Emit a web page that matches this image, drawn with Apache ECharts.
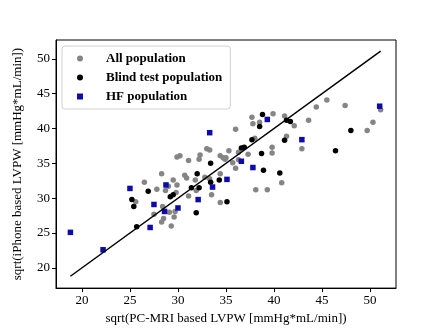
<!DOCTYPE html>
<html><head><meta charset="utf-8">
<script src="https://cdn.jsdelivr.net/npm/echarts@6/dist/echarts.min.js"></script>
<style>html,body{margin:0;padding:0;background:#fff}#c{width:440px;height:330px}</style>
</head><body><div id="c"></div>
<script>
const tickValues = [20, 25, 30, 35, 40, 45, 50];
const allPopulation = [
  [26.5,32.3],[25.6,29.5],[27.8,31.3],[28.3,33.5],[28.4,28.8],[28.5,27.1],[28.3,26.6],[29.3,26.0],
  [28.7,31.1],[29.0,31.7],[29.5,32.6],[29.9,31.9],[29.8,30.8],[29.7,28.1],[29.6,27.3],[29.1,28.0],
  [30.7,33.3],[30.9,32.9],[31.1,35.4],[31.1,30.3],[31.8,32.6],[31.9,31.1],[32.3,36.2],[32.2,35.6],
  [32.8,33.0],[33.3,32.8],[33.5,30.5],[34.4,33.5],[34.4,29.4],[35.7,35.1],[36.0,34.3],[36.3,35.5],
  [38.1,31.2],[39.3,31.2],[40.8,32.2],[33.0,37.1],[33.3,36.9],[29.9,35.9],[30.2,36.1],
  [34.4,36.1],[34.7,35.8],[34.9,35.6],[35.0,35.8],[35.3,36.8],[36.3,36.6],[37.3,36.3],
  [39.8,37.3],[39.8,36.5],[36.0,39.9],[37.7,41.6],[38.5,40.9],[37.8,40.7],[39.9,42.1],[41.1,41.8],
  [42.1,40.4],[43.6,41.2],[44.4,43.1],[45.5,44.1],[47.4,43.3],[51.1,42.7],[50.3,40.9],[49.7,39.7],
  [38.0,38.6],[41.3,38.9],[42.9,37.1],[27.5,27.7]
];
const blindTestPopulation = [
  [25.7,25.9],[25.2,29.8],[25.4,28.8],[26.9,31.0],[29.2,30.2],[29.5,30.5],[31.4,31.5],[32.0,33.5],
  [32.2,31.5],[31.9,27.9],[33.4,35.0],[33.4,32.3],[34.3,32.6],[35.1,29.5],[38.9,34.0],[40.6,33.6],
  [36.6,37.2],[36.9,37.3],[38.7,36.4],[37.7,38.4],[41.1,38.3],[38.8,42.0],[38.5,40.3],[41.3,41.2],
  [41.7,41.0],[46.4,36.8],[48.0,39.7]
];
const hfPopulation = [
  [18.8,25.1],[22.2,22.6],[25.0,31.4],[27.1,25.8],[27.5,29.1],[28.6,28.1],[28.75,31.9],[30.0,28.6],
  [32.1,29.8],[33.3,39.4],[33.6,31.6],[35.1,32.7],[36.6,35.3],[37.8,34.4],[39.3,41.3],[42.9,38.4],
  [51.0,43.2]
];
const identityLine = [[18.8,18.8],[51.1,51.1]];
const seriesNames = ['All population', 'Blind test population', 'HF population'];

const font = 'Liberation Serif, Times New Roman, serif';
const chart = echarts.init(document.getElementById('c'));
chart.setOption({
  animation: false,
  backgroundColor: '#fff',
  grid: { left: 56, right: 44, top: 40, bottom: 36, show: true, borderColor: '#000', borderWidth: 1 },
  legend: {
    orient: 'vertical', left: 62, top: 46,
    data: [
      { name: seriesNames[0], icon: 'circle' },
      { name: seriesNames[1], icon: 'circle' },
      { name: seriesNames[2], icon: 'rect' }
    ],
    itemWidth: 6, itemHeight: 6, itemGap: 6,
    padding: [6, 8, 6, 15],
    backgroundColor: '#fff', borderColor: '#d0d0d0', borderWidth: 1, borderRadius: 3,
    textStyle: { fontFamily: font, fontWeight: 'bold', fontSize: 13, color: '#000', padding: [0, 0, 0, 18] }
  },
  xAxis: {
    type: 'value', min: 17.3, max: 52.7,
    name: 'sqrt(PC-MRI based LVPW [mmHg*mL/min])', nameLocation: 'middle', nameGap: 22,
    nameTextStyle: { fontFamily: font, fontSize: 13, color: '#000' },
    axisLine: { show: true, onZero: false, lineStyle: { color: '#000' } },
    axisTick: { show: true, length: 4, customValues: tickValues, lineStyle: { color: '#000' } },
    axisLabel: { customValues: tickValues, fontFamily: font, fontSize: 13, color: '#000', margin: 6 },
    splitLine: { show: false }
  },
  yAxis: {
    type: 'value', min: 17.1, max: 52.7,
    name: 'sqrt(iPhone based LVPW [mmHg*mL/min])', nameLocation: 'middle', nameGap: 32, nameRotate: 90,
    nameTextStyle: { fontFamily: font, fontSize: 13, color: '#000' },
    axisLine: { show: true, onZero: false, lineStyle: { color: '#000' } },
    axisTick: { show: true, length: 4, customValues: tickValues, lineStyle: { color: '#000' } },
    axisLabel: { customValues: tickValues, fontFamily: font, fontSize: 13, color: '#000', margin: 6 },
    splitLine: { show: false }
  },
  series: [
    { name: seriesNames[0], type: 'scatter', data: allPopulation, symbol: 'circle', symbolSize: 5.5,
      itemStyle: { color: '#858585', opacity: 1 }, z: 2 },
    { name: seriesNames[1], type: 'scatter', data: blindTestPopulation, symbol: 'circle', symbolSize: 5.5,
      itemStyle: { color: '#000', opacity: 1 }, z: 3 },
    { name: seriesNames[2], type: 'scatter', data: hfPopulation, symbol: 'rect', symbolSize: 5.5,
      itemStyle: { color: '#0c0caa', opacity: 1 }, z: 4 },
    { name: 'identity', type: 'line', data: identityLine, symbol: 'none', silent: true,
      lineStyle: { color: '#000', width: 1.5 }, z: 5 }
  ]
});
</script></body></html>
